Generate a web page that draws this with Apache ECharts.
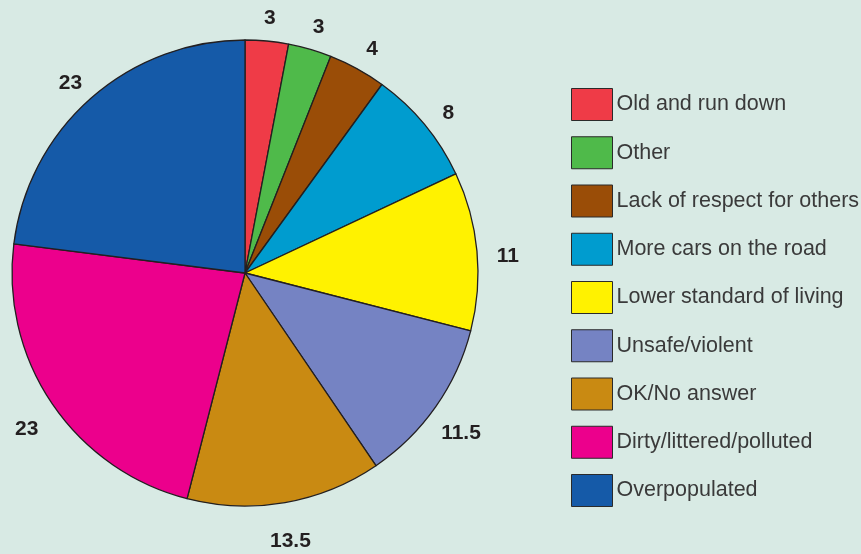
<!DOCTYPE html>
<html><head><meta charset="utf-8">
<script src="https://cdn.jsdelivr.net/npm/echarts@6/dist/echarts.min.js"></script>
<style>html,body{margin:0;padding:0;background:#d8eae4;}#c{width:861px;height:554px;}</style>
</head><body><div id="c"></div>
<script>
const categories = ["Old and run down","Other","Lack of respect for others","More cars on the road","Lower standard of living","Unsafe/violent","OK/No answer","Dirty/littered/polluted","Overpopulated"];
const values = [3,3,4,8,11,11.5,13.5,23,23];
const colors = ["#ef3b47","#4fba4a","#9a4d07","#009ccf","#fff200","#7583c3","#c98a12","#ec008c","#155aa8"];

const chart = echarts.init(document.getElementById('c'), null, {renderer:'canvas'});
const data = categories.map((n,i)=>({name:n, value:values[i], itemStyle:{color:colors[i]}}));
chart.setOption({
  backgroundColor:'#d8eae4',
  animation:false,
  legend:{
    orient:'vertical', left:571, top:88, padding:0,
    itemWidth:41, itemHeight:32, itemGap:15.25,
    icon:'rect',
    itemStyle:{borderColor:'#2a2a2a', borderWidth:1},
    textStyle:{fontFamily:'Liberation Sans', fontSize:21.5, color:'#3a3a3a', padding:[0,0,0,-1]},
    data:categories
  },
  series:[
    {
      type:'pie', center:[245,273], radius:[0,233], startAngle:90, clockwise:true,
      data:data,
      itemStyle:{borderColor:'#231f20', borderWidth:1.3},
      label:{show:false}, labelLine:{show:false},
      emphasis:{disabled:true}
    },
    {
      type:'pie', center:[245,281], radius:[256,266], startAngle:90, clockwise:true,
      silent:true,
      data:categories.map((n,i)=>({name:n, value:values[i]})),
      itemStyle:{color:'rgba(0,0,0,0)', borderWidth:0},
      label:{show:true, position:'inside', formatter:'{c}', fontFamily:'Liberation Sans', fontWeight:'bold', fontSize:21, color:'#231f20'},
      labelLine:{show:false},
      emphasis:{disabled:true}
    }
  ]
});
</script></body></html>
